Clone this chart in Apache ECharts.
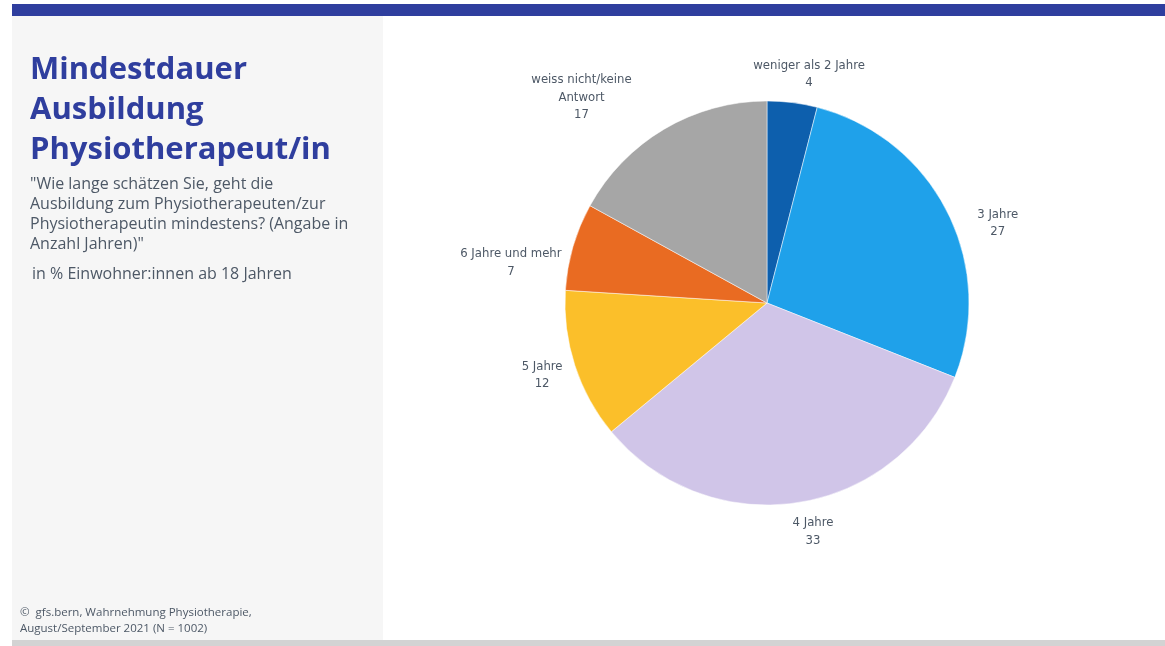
<!DOCTYPE html>
<html>
<head>
<meta charset="utf-8">
<script src="https://cdn.jsdelivr.net/npm/echarts@6/dist/echarts.min.js"></script>
<style>
  html, body { margin: 0; padding: 0; background: #ffffff; }
  #chart { width: 1165px; height: 646px; }
</style>
</head>
<body>
<div id="chart"></div>
<script>
// Survey answers: minimum training duration for physiotherapists (in %)
const categories = [
  'weniger als 2 Jahre',
  '3 Jahre',
  '4 Jahre',
  '5 Jahre',
  '6 Jahre und mehr',
  'weiss nicht/keine Antwort'
];
const labelNames = [
  'weniger als 2 Jahre',
  '3 Jahre',
  '4 Jahre',
  '5 Jahre',
  '6 Jahre und mehr',
  'weiss nicht/keine\nAntwort'
];
const shares = [4, 27, 33, 12, 7, 17];
const sliceColors = ['#0d5fad', '#1fa1ea', '#d0c5e8', '#fbbf2a', '#e96b22', '#a6a6a6'];

const titleText = 'Mindestdauer\nAusbildung\nPhysiotherapeut/in';
const questionText = '"Wie lange schätzen Sie, geht die\nAusbildung zum Physiotherapeuten/zur\nPhysiotherapeutin mindestens? (Angabe in\nAnzahl Jahren)"';
const baseText = 'in % Einwohner:innen ab 18 Jahren';
const sourceText = '©  gfs.bern, Wahrnehmung Physiotherapie,\nAugust/September 2021 (N = 1002)';

const chart = echarts.init(document.getElementById('chart'), null, { renderer: 'canvas' });

const LABEL_GAP = 14;
const LABEL_FONT = '"DejaVu Sans Condensed", "Roboto Condensed", Roboto, sans-serif';
// small per-label nudges so the labels sit evenly around the pie
const labelNudges = [[8, 3], [20, 26], [9, -2], [0, 0], [0, 25], [-50, 3]];

const option = {
  animation: false,
  backgroundColor: '#ffffff',
  graphic: [
    { type: 'rect', z: -10, shape: { x: 12, y: 4, width: 1153, height: 12 }, style: { fill: '#2f3e9e' } },
    { type: 'rect', z: -10, shape: { x: 12, y: 16, width: 371, height: 624 }, style: { fill: '#f6f6f6' } },
    { type: 'rect', z: -10, shape: { x: 12, y: 640, width: 1153, height: 6 }, style: { fill: '#d3d3d3' } }
  ],
  title: [
    {
      text: titleText,
      left: 25, top: 45,
      textStyle: { fontFamily: 'Open Sans', fontWeight: 'bold', fontSize: 31, lineHeight: 40, color: '#2f3e9e' }
    },
    {
      text: questionText,
      left: 25, top: 170,
      textStyle: { fontFamily: 'Open Sans', fontWeight: 'normal', fontSize: 16, lineHeight: 19.7, color: '#4d5866' }
    },
    {
      text: baseText,
      left: 27, top: 259,
      textStyle: { fontFamily: 'Open Sans', fontWeight: 'normal', fontSize: 16, lineHeight: 20, color: '#4d5866' }
    },
    {
      text: sourceText,
      left: 15, top: 599,
      textStyle: { fontFamily: 'Open Sans', fontWeight: 'normal', fontSize: 11.5, lineHeight: 16.5, color: '#4d5866' }
    }
  ],
  series: [
    {
      type: 'pie',
      center: [767, 303],
      radius: 202,
      startAngle: 90,
      clockwise: true,
      avoidLabelOverlap: false,
      itemStyle: { borderColor: '#ffffff', borderWidth: 0.5 },
      emphasis: { disabled: true },
      label: {
        show: true,
        position: 'outside',
        formatter: function (p) { return labelNames[p.dataIndex] + '\n' + p.value; },
        fontFamily: LABEL_FONT,
        fontSize: 13,
        lineHeight: 17.5,
        color: '#4d5866',
        align: 'center'
      },
      labelLine: { show: true, length: LABEL_GAP, length2: 0, lineStyle: { opacity: 0 } },
      // Centre each label just outside its slice, pushed outward along the slice's mid-angle
      labelLayout: function (params) {
        const pts = params.labelLinePoints;
        if (!pts) { return {}; }
        const dx = pts[1][0] - pts[0][0];
        const dy = pts[1][1] - pts[0][1];
        const len = Math.sqrt(dx * dx + dy * dy) || 1;
        const ux = dx / len, uy = dy / len;
        const w = params.labelRect.width, h = params.labelRect.height;
        const nudge = labelNudges[params.dataIndex] || [0, 0];
        return {
          x: pts[1][0] + ux * w / 2 + nudge[0],
          y: pts[1][1] + uy * h / 2 + nudge[1],
          align: 'center',
          verticalAlign: 'middle'
        };
      },
      data: categories.map(function (name, i) {
        return { name: name, value: shares[i], itemStyle: { color: sliceColors[i] } };
      })
    }
  ]
};

chart.setOption(option);
</script>
</body>
</html>
